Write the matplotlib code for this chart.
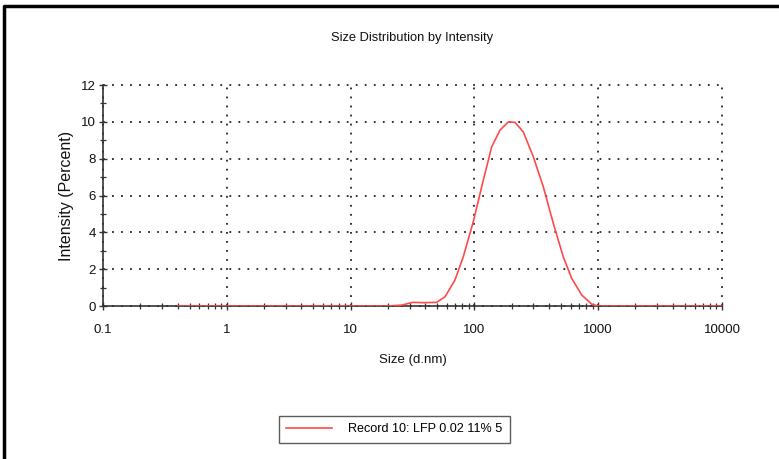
import matplotlib.pyplot as plt
import numpy as np
from matplotlib.lines import Line2D
from matplotlib.ticker import FixedLocator, LogLocator, NullFormatter

# values (size in d.nm, intensity in %)
size_nm = [0.4, 10, 20, 25.9, 31.9, 38.6, 49.6, 57.9, 69.7, 81.4, 98, 114.6, 138, 161,
           188, 213, 248, 299, 360, 434, 522, 611, 736, 885, 1000, 10000]
intensity = [0, 0, 0, 0.05, 0.2, 0.18, 0.2, 0.5, 1.41, 2.68, 4.58, 6.48, 8.65, 9.55,
             10.0, 9.97, 9.46, 8.11, 6.48, 4.49, 2.68, 1.5, 0.6, 0.1, 0, 0]
x_ticks = [0.1, 1, 10, 100, 1000, 10000]
x_tick_labels = ['0.1', '1', '10', '100', '1000', '10000']
y_ticks = [0, 2, 4, 6, 8, 10, 12]
record_label = 'Record 10: LFP 0.02 11% 5'

plt.rcParams['font.family'] = ['Liberation Sans', 'DejaVu Sans']

fig = plt.figure(figsize=(7.79, 4.59), dpi=100)
ax = fig.add_axes([0.1322, 0.3333, 0.7946, 0.4815])

ax.plot(size_nm, intensity, color='#ff4a4a', lw=1.2, label=record_label, zorder=3)

ax.set_xscale('log')
ax.set_xlim(0.1, 10000)
ax.set_ylim(0, 12)
ax.set_xticks(x_ticks)
ax.set_xticklabels(x_tick_labels)
ax.xaxis.set_minor_locator(LogLocator(base=10, subs=np.arange(2, 10)))
ax.xaxis.set_minor_formatter(NullFormatter())
ax.set_yticks(y_ticks)
ax.yaxis.set_minor_locator(FixedLocator([1, 3, 5, 7, 9, 11]))

ax.grid(True, which='major', color='#222222', linestyle=(0, (1, 4)), lw=1.3)
for gl in ax.get_xgridlines() + ax.get_ygridlines():
    gl.set_clip_on(False)
for s in ['top', 'right']:
    ax.spines[s].set_visible(False)
for s in ['left', 'bottom']:
    ax.spines[s].set_color('#333333')
    ax.spines[s].set_linewidth(1.2)

ax.tick_params(axis='both', which='major', direction='inout', length=6, width=1,
               color='#333333', labelsize=9.5, labelcolor='#111111')
ax.tick_params(axis='both', which='minor', direction='inout', length=5, width=0.9,
               color='#333333')
ax.tick_params(axis='x', which='major', pad=10)
ax.tick_params(axis='y', which='major', pad=2)

ax.set_xlabel('Size (d.nm)', fontsize=9.5, labelpad=13, color='#111111')
ax.set_ylabel('Intensity (Percent)', fontsize=11.5, labelpad=5, color='#111111')
ax.set_title('Size Distribution by Intensity', fontsize=9.3, pad=32, color='#111111')

leg = fig.legend(loc='center', bbox_to_anchor=(0.506, 0.0645), frameon=True,
                 fancybox=False, edgecolor='#333333', fontsize=9.1,
                 handlelength=3.6, handletextpad=1.3, borderpad=0.6,
                 borderaxespad=0)
leg.get_frame().set_linewidth(1.0)

# panel border (top and left edges)
fig.add_artist(Line2D([0.005, 0.005, 1.0], [0.0, 0.988, 0.988], transform=fig.transFigure,
                      color='black', lw=2.5))

fig.savefig('out.png', dpi=100)
